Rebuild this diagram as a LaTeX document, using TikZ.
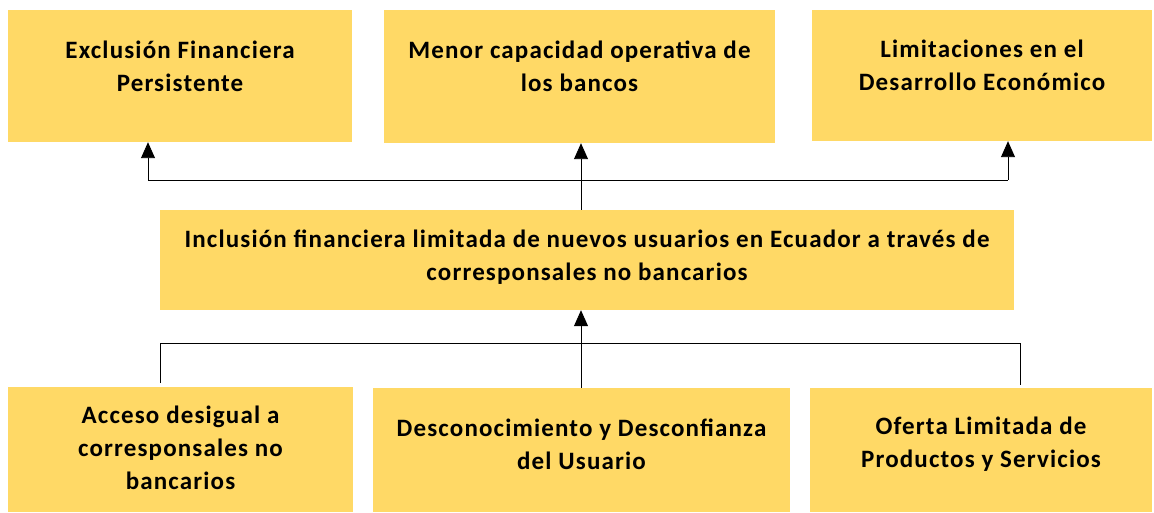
\documentclass[tikz,border=0pt]{standalone}
\usepackage{fontspec}
\setmainfont{Carlito}[LetterSpace=4.6]
\usetikzlibrary{arrows.meta}
\definecolor{boxcol}{RGB}{255,217,102}
\tikzset{
  box/.style={fill=boxcol, draw=none, inner sep=0pt, anchor=center},
  txt/.style={align=center, font=\bfseries\fontsize{25}{33}\selectfont, text=black},
  conn/.style={draw=black, line width=0.9pt},
  arr/.style={conn, -{Triangle[width=14pt,length=16pt]}},
}
\begin{document}
\begin{tikzpicture}[x=1pt,y=-1pt]
\useasboundingbox (0,0) rectangle (1154,513);
% effects
\node[box, minimum width=344pt, minimum height=132pt,
  label={[txt,yshift=10pt]center:Exclusión Financiera\\Persistente}] (A) at (180,76) {};
\node[box, minimum width=391pt, minimum height=133pt,
  label={[txt,yshift=10pt]center:Menor capacidad operativa de\\los bancos}] (B) at (579.5,76.5) {};
\node[box, minimum width=340pt, minimum height=131pt,
  label={[txt,yshift=10pt]center:Limitaciones en el\\Desarrollo Económico}] (C) at (982,75.5) {};
% problem
\node[box, minimum width=854pt, minimum height=100pt,
  label={[txt,yshift=3pt]center:Inclusión financiera limitada de nuevos usuarios en Ecuador a través de\\corresponsales no bancarios}] (M) at (587,260) {};
% causes
\node[box, minimum width=345pt, minimum height=125pt,
  label={[txt,yshift=2pt]center:Acceso desigual a\\corresponsales no\\bancarios}] (D1) at (180.5,449.5) {};
\node[box, minimum width=417pt, minimum height=124pt,
  label={[txt,yshift=6pt]center:Desconocimiento y Desconfianza\\del Usuario}] (D2) at (581.5,450) {};
\node[box, minimum width=342pt, minimum height=124pt,
  label={[txt,yshift=6pt]center:Oferta Limitada de\\Productos y Servicios}] (D3) at (981,450) {};
% top connectors
\coordinate (ta) at (148,180);
\coordinate (tm) at (581,180);
\coordinate (tc) at (1008,180);
\draw[conn] (M.north -| tm) -- (tm);
\draw[conn] (ta) -- (tc);
\draw[arr] (ta) -- (A.south -| ta);
\draw[arr] (tm) -- (B.south -| tm);
\draw[arr] (tc) -- (C.south -| tc);
% bottom connectors
\coordinate (bl) at (160,343);
\coordinate (blE) at (160,383);
\coordinate (br) at (1020,343);
\coordinate (brE) at (1020,385);
\coordinate (bm) at (581,343);
\draw[conn] (blE) -- (bl) -- (br) -- (brE);
\draw[arr] (D2.north -| bm) -- (M.south -| bm);
\end{tikzpicture}
\end{document}
